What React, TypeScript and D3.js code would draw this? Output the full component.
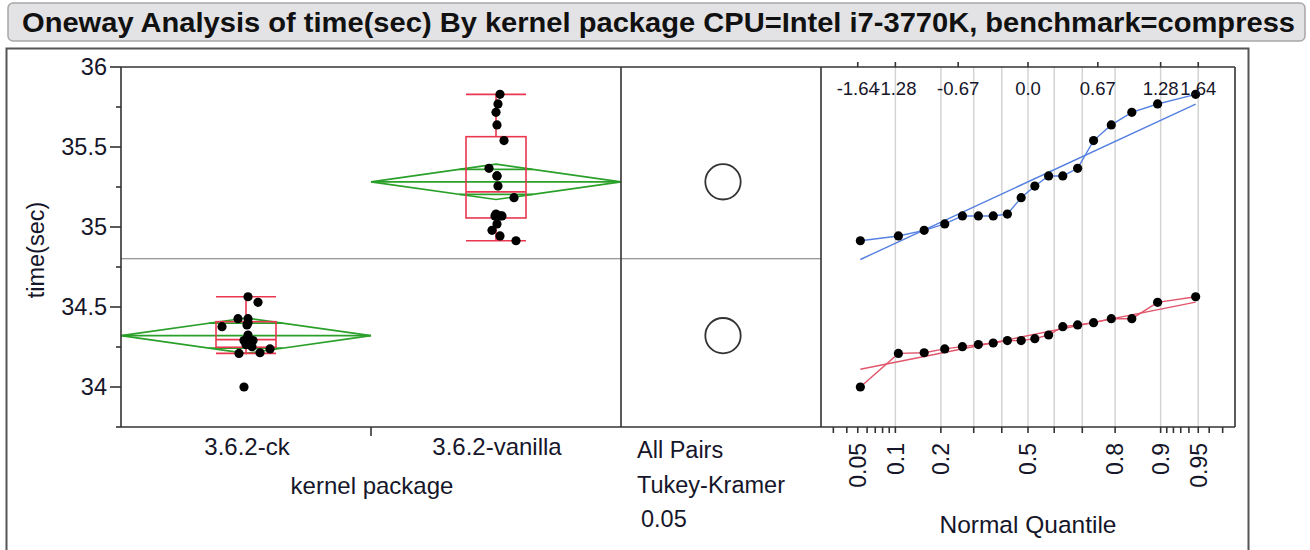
import React from 'react';
import * as d3 from 'd3';

const title = 'Oneway Analysis of time(sec) By kernel package CPU=Intel i7-3770K, benchmark=compress';
const categories = ['3.6.2-ck', '3.6.2-vanilla'];
const ckTimes = [34.0, 34.214, 34.21, 34.238, 34.252, 34.265, 34.275, 34.29, 34.29, 34.302, 34.325, 34.377, 34.388, 34.402, 34.427, 34.427, 34.529, 34.564];
const vanillaTimes = [34.914, 34.944, 34.979, 35.019, 35.069, 35.069, 35.069, 35.081, 35.183, 35.256, 35.319, 35.319, 35.367, 35.54, 35.638, 35.717, 35.769, 35.829];
// jitter as a fraction of the category band
const ckJitter = [-0.008, -0.028, 0.056, 0.096, 0.024, 0, 0.016, 0.028, -0.008, 0.008, 0.008, -0.096, 0.004, 0.008, -0.032, 0.008, 0.048, 0.008];
const vanillaJitter = [0.08, 0.016, -0.016, 0.004, 0.016, -0.004, 0.024, 0, 0.072, 0.008, 0.004, 0.004, -0.028, 0.032, 0.004, 0, 0.008, 0.016];
const yDomain = [33.75, 36];
const yTicks = [34, 34.5, 35, 35.5, 36];
const yMinorTicks = [33.75, 34.25, 34.75, 35.25, 35.75];
const probGrid = [0.1, 0.2, 0.3, 0.4, 0.5, 0.6, 0.7, 0.8, 0.9, 0.95];
const probTicks = [0.03, 0.04, 0.05, 0.06, 0.07, 0.08, 0.09, 0.1, 0.2, 0.3, 0.4, 0.5, 0.6, 0.7, 0.8, 0.9, 0.91, 0.92, 0.93, 0.94, 0.95, 0.96, 0.97];
const probLabels = ['0.05', '0.1', '0.2', '0.5', '0.8', '0.9', '0.95'];
const zLabels = ['-1.64', '-1.28', '-0.67', '0.0', '0.67', '1.28', '1.64'];
const zValues = [-1.645, -1.2816, -0.6745, 0, 0.6745, 1.2816, 1.645];
const comparisonText = ['All Pairs', 'Tukey-Kramer', '0.05'];
const tCrit = 2.032; // t(0.975, df=34)

function normInv(p: number): number {
  const a = [-3.969683028665376e1, 2.209460984245205e2, -2.759285104469687e2, 1.38357751867269e2, -3.066479806614716e1, 2.506628277459239];
  const b = [-5.447609879822406e1, 1.615858368580409e2, -1.556989798598866e2, 6.680131188771972e1, -1.328068155288572e1];
  const c = [-7.784894002430293e-3, -3.223964580411365e-1, -2.400758277161838, -2.549732539343734, 4.374664141464968, 2.938163982698783];
  const d = [7.784695709041462e-3, 3.224671290700398e-1, 2.445134137142996, 3.754408661907416];
  const pl = 0.02425;
  if (p < pl) {
    const q = Math.sqrt(-2 * Math.log(p));
    return (((((c[0] * q + c[1]) * q + c[2]) * q + c[3]) * q + c[4]) * q + c[5]) / ((((d[0] * q + d[1]) * q + d[2]) * q + d[3]) * q + 1);
  }
  if (p <= 1 - pl) {
    const q = p - 0.5, r = q * q;
    return (((((a[0] * r + a[1]) * r + a[2]) * r + a[3]) * r + a[4]) * r + a[5]) * q / (((((b[0] * r + b[1]) * r + b[2]) * r + b[3]) * r + b[4]) * r + 1);
  }
  const q = Math.sqrt(-2 * Math.log(1 - p));
  return -(((((c[0] * q + c[1]) * q + c[2]) * q + c[3]) * q + c[4]) * q + c[5]) / ((((d[0] * q + d[1]) * q + d[2]) * q + d[3]) * q + 1);
}

function jmpQuantile(s: number[], p: number) {
  const n = s.length;
  const pos = p * (n + 1);
  const i = Math.floor(pos);
  const f = pos - i;
  if (i < 1) return s[0];
  if (i >= n) return s[n - 1];
  return s[i - 1] + f * (s[i] - s[i - 1]);
}

const FONT = '"Liberation Sans", Arial, sans-serif';
const TXT = '#16162a';

export default function App() {
  const left = 121, div1 = 621, div2 = 821, right = 1235;
  const top = 67, bottom = 427;
  const y = d3.scaleLinear().domain(yDomain).range([bottom, top]);
  const x = d3.scaleBand().domain(categories).range([left, div1]);
  const z = d3.scaleLinear().domain([-2, 2]).range([div2, right]);
  const bw = x.bandwidth();

  const groups = [
    { name: categories[0], vals: ckTimes, jit: ckJitter, qColor: '#e0566c' },
    { name: categories[1], vals: vanillaTimes, jit: vanillaJitter, qColor: '#5580e0' },
  ];
  const stats = groups.map(g => {
    const s = [...g.vals].sort((a, b) => a - b);
    const mean = d3.mean(s) as number;
    const ss = d3.sum(s, v => (v - mean) ** 2);
    const q1 = jmpQuantile(s, 0.25), med = jmpQuantile(s, 0.5), q3 = jmpQuantile(s, 0.75);
    const iqr = q3 - q1;
    const lo = d3.min(s.filter(v => v >= q1 - 1.5 * iqr)) as number;
    const hi = d3.max(s.filter(v => v <= q3 + 1.5 * iqr)) as number;
    return { ...g, s, mean, ss, sd: Math.sqrt(ss / (s.length - 1)), q1, med, q3, lo, hi, n: s.length };
  });
  const dfE = d3.sum(stats, s => s.n - 1);
  const mse = d3.sum(stats, s => s.ss) / dfE;
  const grand = d3.mean([...ckTimes, ...vanillaTimes]) as number;

  const lineGen = d3.line<[number, number]>().x(d => d[0]).y(d => d[1]);

  return (
    <svg width={1310} height={550} style={{ position: 'absolute', left: 0, top: 0, background: '#fff' }} fontFamily={FONT}>
      {/* title */}
      <rect x={8} y={3} width={1297} height={38} rx={5} fill="#e3e3e6" stroke="#a8a8a8" strokeWidth={1.5} />
      <text x={22} y={32} fontSize={28} fontWeight="bold" fill="#111" textLength={1273} lengthAdjust="spacingAndGlyphs">{title}</text>
      {/* outer frame */}
      <path d="M6.5,550 V48.5 H1248.5 V550" fill="none" stroke="#555" strokeWidth={2} />

      {/* gridlines in quantile panel */}
      {probGrid.map(p => (
        <line key={'g' + p} x1={z(normInv(p))} x2={z(normInv(p))} y1={top} y2={bottom} stroke="#d4d4d4" strokeWidth={1.5} />
      ))}

      {/* grand mean line */}
      <line x1={left} x2={div2} y1={y(grand)} y2={y(grand)} stroke="#777" strokeWidth={1} />

      {/* diamonds */}
      {stats.map(st => {
        const x0 = x(st.name) as number;
        const cx = x0 + bw / 2;
        const hw = tCrit * Math.sqrt(mse / st.n);
        const ov = hw / Math.SQRT2;
        const frac = 1 - ov / hw;
        const dpath = `M${x0},${y(st.mean)} L${cx},${y(st.mean + hw)} L${x0 + bw},${y(st.mean)} L${cx},${y(st.mean - hw)} Z`;
        return (
          <g key={'d' + st.name} stroke="#2aa02a" strokeWidth={1.6} fill="none">
            <path d={dpath} />
            <line x1={x0} x2={x0 + bw} y1={y(st.mean)} y2={y(st.mean)} />
            <line x1={cx - frac * bw / 2} x2={cx + frac * bw / 2} y1={y(st.mean + ov)} y2={y(st.mean + ov)} />
            <line x1={cx - frac * bw / 2} x2={cx + frac * bw / 2} y1={y(st.mean - ov)} y2={y(st.mean - ov)} />
          </g>
        );
      })}

      {/* box plots */}
      {stats.map(st => {
        const cx = (x(st.name) as number) + bw / 2;
        const w = bw * 0.24;
        return (
          <g key={'b' + st.name} stroke="#e8374f" strokeWidth={1.6} fill="none">
            <rect x={cx - w / 2} y={y(st.q3)} width={w} height={y(st.q1) - y(st.q3)} />
            <line x1={cx - w / 2} x2={cx + w / 2} y1={y(st.med)} y2={y(st.med)} />
            <line x1={cx} x2={cx} y1={y(st.q3)} y2={y(st.hi)} />
            <line x1={cx} x2={cx} y1={y(st.q1)} y2={y(st.lo)} />
            <line x1={cx - w / 2} x2={cx + w / 2} y1={y(st.hi)} y2={y(st.hi)} />
            <line x1={cx - w / 2} x2={cx + w / 2} y1={y(st.lo)} y2={y(st.lo)} />
          </g>
        );
      })}

      {/* jittered points */}
      {stats.map(st => {
        const cx = (x(st.name) as number) + bw / 2;
        return st.s.map((v, i) => (
          <circle key={st.name + i} cx={cx + st.jit[i] * bw} cy={y(v)} r={4.6} fill="#000" />
        ));
      })}

      {/* comparison circles */}
      {stats.map(st => (
        <circle key={'c' + st.name} cx={(div1 + div2) / 2 + 2} cy={y(st.mean)} r={y(st.mean) - y(st.mean + tCrit * Math.sqrt(mse / st.n))}
          fill="none" stroke="#333" strokeWidth={1.8} />
      ))}

      {/* normal quantile plot */}
      {stats.map(st => {
        const pts: [number, number][] = st.s.map((v, i) => [z(normInv((i + 1) / (st.n + 1))), y(v)]);
        const z1 = normInv(1 / (st.n + 1)), z2 = normInv(st.n / (st.n + 1));
        const fit: [number, number][] = [[z(z1), y(st.mean + st.sd * z1)], [z(z2), y(st.mean + st.sd * z2)]];
        return (
          <g key={'q' + st.name}>
            <path d={lineGen(fit) as string} stroke={st.qColor} strokeWidth={1.4} fill="none" />
            <path d={lineGen(pts) as string} stroke={st.qColor} strokeWidth={1.4} fill="none" />
            {pts.map((p, i) => <circle key={i} cx={p[0]} cy={p[1]} r={4.6} fill="#000" />)}
          </g>
        );
      })}

      {/* panel frames */}
      <g stroke="#333" strokeWidth={1.6} fill="none">
        <line x1={left} x2={right} y1={top} y2={top} />
        <line x1={left} x2={right} y1={bottom} y2={bottom} />
        <line x1={left} x2={left} y1={top} y2={bottom} />
        <line x1={div1} x2={div1} y1={top} y2={bottom} />
        <line x1={div2} x2={div2} y1={top} y2={bottom} />
        <line x1={right} x2={right} y1={top} y2={bottom} />
      </g>

      {/* axis ticks */}
      <g stroke="#333" strokeWidth={1.6}>
        {yTicks.map(t => <line key={'yt' + t} x1={left - 11} x2={left} y1={y(t)} y2={y(t)} />)}
        {yMinorTicks.map(t => <line key={'ym' + t} x1={left - 5} x2={left} y1={y(t)} y2={y(t)} />)}
        <line x1={(x(categories[1]) as number)} x2={(x(categories[1]) as number)} y1={bottom} y2={bottom + 9} />
        {probTicks.map(p => <line key={'pt' + p} x1={z(normInv(p))} x2={z(normInv(p))} y1={bottom} y2={bottom + 6} />)}
        {zValues.map(v => <line key={'zt' + v} x1={z(v)} x2={z(v)} y1={top} y2={top - 5} />)}
      </g>
      {yTicks.map(t => (
        <text key={'yl' + t} x={107} y={y(t)} dy="0.36em" textAnchor="end" fontSize={23.5} fill={TXT}>{d3.format('~g')(t)}</text>
      ))}
      <text transform={`translate(36,${(top + bottom) / 2 + 3}) rotate(-90)`} textAnchor="middle" dy="0.35em" fontSize={23.5} fill={TXT}>time(sec)</text>

      {categories.map(c => (
        <text key={'xl' + c} x={(x(c) as number) + bw / 2 + 1} y={455} textAnchor="middle" fontSize={24} fill={TXT}>{c}</text>
      ))}
      <text x={(left + div1) / 2 + 1} y={494} textAnchor="middle" fontSize={24} fill={TXT}>kernel package</text>

      {comparisonText.map((t, i) => (
        <text key={'ct' + i} x={i === 2 ? 641 : 637} y={458 + i * 34.5} fontSize={23.5} fill={TXT}>{t}</text>
      ))}

      {zLabels.map((l, i) => (
        <text key={'zl' + i} x={z(zValues[i])} y={95} textAnchor="middle" fontSize={18.5} fill={TXT}>{l}</text>
      ))}
      {probLabels.map(l => (
        <text key={'pl' + l} transform={`translate(${z(normInv(+l))},443) rotate(-90)`} textAnchor="end" dy="0.36em" fontSize={23} fill={TXT}>{l}</text>
      ))}
      <text x={1028} y={533} textAnchor="middle" fontSize={24.5} fill={TXT}>Normal Quantile</text>
    </svg>
  );
}
